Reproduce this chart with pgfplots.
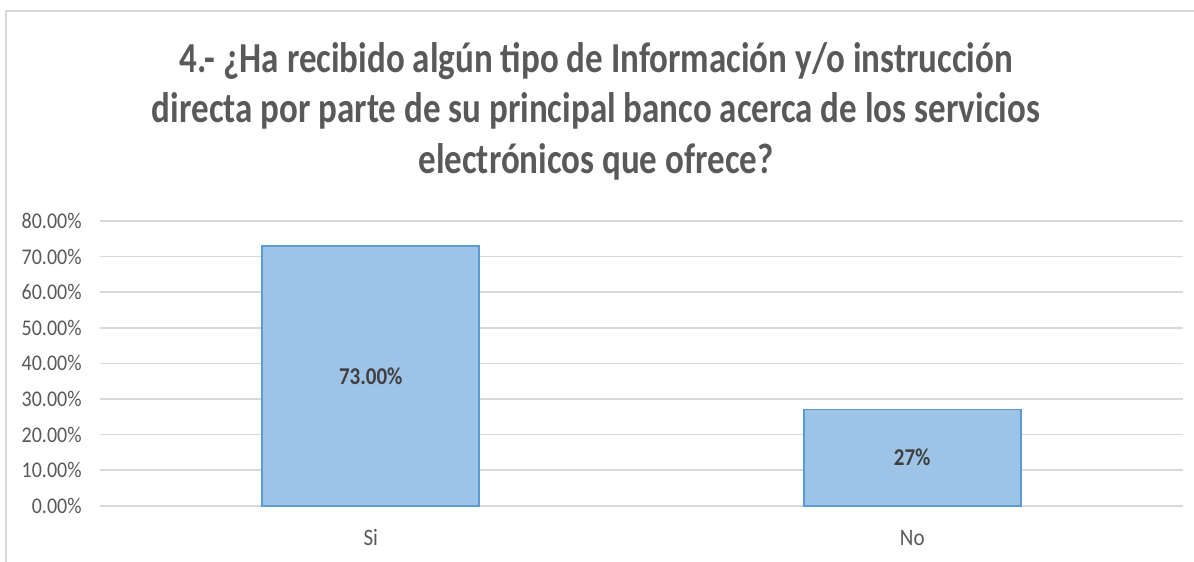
\documentclass[border=0pt]{standalone}
\usepackage{graphicx}
\usepackage{pgfplots}
\pgfplotsset{compat=1.18}
\usepackage{fontspec}
\setmainfont{Carlito}
\definecolor{txtgray}{HTML}{595959}
\definecolor{lblgray}{HTML}{404040}
\definecolor{gridgray}{HTML}{D9D9D9}
\definecolor{barfill}{HTML}{9DC3E6}
\definecolor{baredge}{HTML}{5B9BD5}
\newcommand{\vs}[1]{\scalebox{1}[1.12]{#1}}
\begin{document}
\begin{tikzpicture}
\path[use as bounding box] (-50pt,-28.15pt) rectangle (547pt,252.85pt);
\draw[gridgray, line width=0.8pt] (-47pt,-40pt) -- (-47pt,247.35pt) -- (560pt,247.35pt);
\begin{axis}[
  at={(0pt,0pt)}, anchor=south west,
  scale only axis,
  width=541.5pt, height=142.35pt,
  xmin=-0.5, xmax=1.5,
  ymin=0, ymax=80,
  axis lines=none,
  axis line style={draw=none},
  ymajorgrids, grid style={gridgray, line width=0.8pt},
  ytick={0,10,...,80},
  xtick={0,1}, xticklabels={\vs{Si},\vs{No}},
  major tick length=0pt,
  /pgf/number format/assume math mode=true,
  yticklabel={\vs{\pgfmathprintnumber[fixed,fixed zerofill,precision=2]{\tick}\%}},
  yticklabel style={font=\fontsize{10}{12}\selectfont, text=txtgray, anchor=east, inner sep=0pt, xshift=-9pt},
  xticklabel style={font=\fontsize{10.5}{12}\selectfont, text=txtgray, anchor=center, inner sep=0pt, yshift=-16pt},
  hide x axis=false, hide y axis=false,
  separate axis lines,
  clip=false,
]
\addplot[ybar, bar width=108.5pt, fill=barfill, draw=baredge, line width=0.8pt,
  point meta=explicit symbolic,
  visualization depends on={y \as \rawy},
  nodes near coords={\scalebox{1}[1.15]{\pgfplotspointmeta}},
  every node near coord/.append style={font=\fontsize{10.5}{12}\selectfont\bfseries, text=lblgray, anchor=center, shift={(axis direction cs:0,-0.5*\rawy)}},
] coordinates {(0,73) [73.00\%] (1,27) [27\%]};
\end{axis}
\begin{scope}[font=\fontsize{17.5}{25}\selectfont\bfseries, text=txtgray]
\node[anchor=base] at (248pt,216.35pt) {\scalebox{1}[1.22]{4.- ¿Ha recibido algún tipo de Información y/o instrucción}};
\node[anchor=base] at (248pt,191.35pt) {\scalebox{1}[1.22]{directa por parte de su principal banco acerca de los servicios}};
\node[anchor=base] at (248pt,166.1pt) {\scalebox{1}[1.22]{electrónicos que ofrece?}};
\end{scope}
\end{tikzpicture}
\end{document}
